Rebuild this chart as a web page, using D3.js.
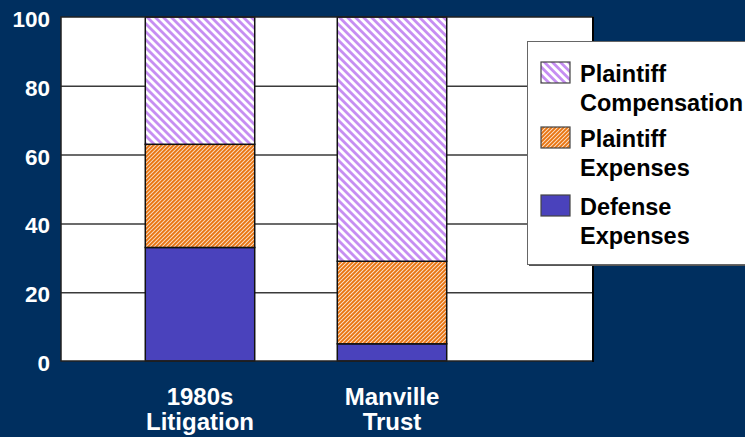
<!DOCTYPE html>
<html>
<head>
<meta charset="utf-8">
<script src="https://cdn.jsdelivr.net/npm/d3@7"></script>
<style>
  body { margin: 0; background: #002f5f; }
  svg { display: block; }
  text { font-family: "Liberation Sans", Arial, sans-serif; font-weight: bold; }
</style>
</head>
<body>
<div class="board"></div>
<script>
var width = 745;
var height = 437;

// data (percent of total)
var categories = ["1980s Litigation", "Manville Trust"];
var catLines = [["1980s", "Litigation"], ["Manville", "Trust"]];
var defenseExp = [33, 5];
var plaintiffExp = [30, 24];
var plaintiffComp = [37, 71];
var yTicks = [0, 20, 40, 60, 80, 100];
var seriesKeys = ["defense", "expenses", "comp"];
var legendLabels = [["Plaintiff", "Compensation"], ["Plaintiff", "Expenses"], ["Defense", "Expenses"]];
var legendKeys = ["comp", "expenses", "defense"];

var plot = {left: 61, right: 593, top: 17, bottom: 361};

var svg = d3.select(".board").append("svg")
  .attr("width", width)
  .attr("height", height);

svg.append("rect")
  .attr("width", width)
  .attr("height", height)
  .attr("fill", "#002f5f");

// hatch patterns
var defs = svg.append("defs");

var pComp = defs.append("pattern")
  .attr("id", "hatch-comp")
  .attr("patternUnits", "userSpaceOnUse")
  .attr("width", 5.66).attr("height", 10)
  .attr("patternTransform", "rotate(-45)");
pComp.append("rect").attr("width", 5.66).attr("height", 10).attr("fill", "#ffffff");
pComp.append("rect").attr("width", 2.8).attr("height", 10).attr("fill", "#c68ef2");

var pExp = defs.append("pattern")
  .attr("id", "hatch-exp")
  .attr("patternUnits", "userSpaceOnUse")
  .attr("width", 2.83).attr("height", 10)
  .attr("patternTransform", "rotate(45)");
pExp.append("rect").attr("width", 2.83).attr("height", 10).attr("fill", "#e87410");
pExp.append("rect").attr("width", 0.7).attr("height", 10).attr("fill", "#ffffff");

var fills = {
  defense: "#4a42bc",
  expenses: "url(#hatch-exp)",
  comp: "url(#hatch-comp)"
};

var y = d3.scaleLinear()
  .domain([0, 100])
  .range([plot.bottom, plot.top]);

var x = d3.scaleBand()
  .domain(categories)
  .range([104, 488])
  .paddingInner(0.43)
  .paddingOuter(0.215);

// plot background
svg.append("rect")
  .attr("x", plot.left)
  .attr("y", plot.top)
  .attr("width", plot.right - plot.left)
  .attr("height", plot.bottom - plot.top)
  .attr("fill", "#ffffff");

// gridlines
svg.append("g")
  .attr("transform", "translate(" + plot.left + ",0)")
  .call(d3.axisLeft(y).tickValues([20, 40, 60, 80]).tickSize(-(plot.right - plot.left)).tickFormat(""))
  .call(function(g) { g.select(".domain").remove(); })
  .selectAll("line")
  .attr("stroke", "#3a3a3a")
  .attr("stroke-width", 1.5);

// stacked bars
var rows = categories.map(function(c, i) {
  return {cat: c, defense: defenseExp[i], expenses: plaintiffExp[i], comp: plaintiffComp[i]};
});
var stacked = d3.stack().keys(seriesKeys)(rows);

svg.append("g")
  .selectAll("g")
  .data(stacked)
  .join("g")
  .attr("fill", function(d) { return fills[d.key]; })
  .selectAll("rect")
  .data(function(d) { return d; })
  .join("rect")
  .attr("x", function(d) { return x(d.data.cat); })
  .attr("y", function(d) { return y(d[1]); })
  .attr("width", x.bandwidth())
  .attr("height", function(d) { return y(d[0]) - y(d[1]); })
  .attr("stroke", "#111")
  .attr("stroke-width", 1.5);

// plot frame
svg.append("rect")
  .attr("x", plot.left)
  .attr("y", plot.top)
  .attr("width", plot.right - plot.left)
  .attr("height", plot.bottom - plot.top)
  .attr("fill", "none")
  .attr("stroke", "#222")
  .attr("stroke-width", 1.5);
svg.append("line")
  .attr("x1", plot.right).attr("x2", plot.right)
  .attr("y1", plot.top).attr("y2", plot.bottom + 1)
  .attr("stroke", "#000")
  .attr("stroke-width", 2);

// y axis labels
var yAxis = svg.append("g")
  .attr("transform", "translate(50,0)")
  .call(d3.axisLeft(y).tickValues(yTicks).tickSize(0).tickPadding(0));
yAxis.select(".domain").remove();
yAxis.selectAll("text")
  .attr("fill", "#ffffff")
  .attr("dy", "0.42em")
  .style("font-size", "22.5px")
  .style("font-family", "'Liberation Sans', Arial, sans-serif")
  .style("font-weight", "bold");

// category labels
var catG = svg.append("g")
  .selectAll("text")
  .data(categories)
  .join("text")
  .attr("text-anchor", "middle")
  .attr("fill", "#ffffff")
  .style("font-size", "24px");
catG.selectAll("tspan")
  .data(function(d, i) { return catLines[i]; })
  .join("tspan")
  .attr("x", function() { return x(d3.select(this.parentNode).datum()) + x.bandwidth() / 2; })
  .attr("y", function(d, j) { return 405 + j * 25; })
  .text(function(d) { return d; });

// legend
var legend = svg.append("g");
legend.append("rect")
  .attr("x", 529).attr("y", 43)
  .attr("width", 240).attr("height", 223)
  .attr("fill", "#555");
legend.append("rect")
  .attr("x", 527.5).attr("y", 41.5)
  .attr("width", 240).attr("height", 223)
  .attr("fill", "#ffffff")
  .attr("stroke", "#666")
  .attr("stroke-width", 1);

var swatchY = [62, 127, 195];
var item = legend.selectAll(".item")
  .data(legendKeys)
  .join("g")
  .attr("class", "item");
item.append("rect")
  .attr("x", 541)
  .attr("y", function(d, i) { return swatchY[i]; })
  .attr("width", 29)
  .attr("height", 21)
  .attr("fill", function(d) { return fills[d]; })
  .attr("stroke", "#444")
  .attr("stroke-width", 1.2);
item.append("text")
  .attr("fill", "#000")
  .style("font-size", "23.5px")
  .selectAll("tspan")
  .data(function(d, i) { return legendLabels[i].map(function(t) { return {t: t, i: i}; }); })
  .join("tspan")
  .attr("x", 580)
  .attr("y", function(d, j) { return swatchY[d.i] + 20 + j * 28.5; })
  .text(function(d) { return d.t; });
</script>
</body>
</html>
